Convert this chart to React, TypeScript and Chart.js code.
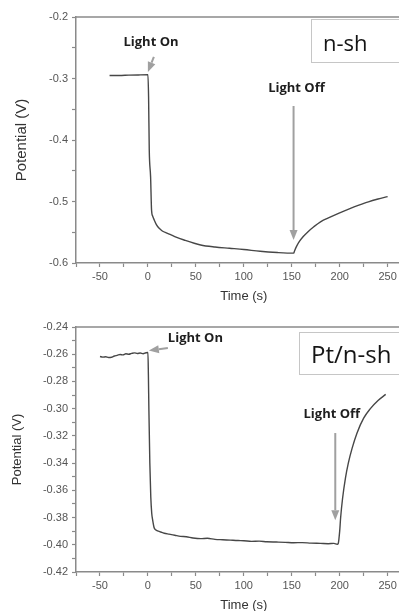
import React, { useEffect, useRef } from 'react';
import { Chart, registerables } from 'chart.js';

Chart.register(...registerables);

// ---------------- data ----------------
// Upper panel: n-sh
const topTime = [
  -40, -30, -20, -10, 0,
  0.7, 1.4, 2.8, 3.8, 5, 6.6, 9, 11.8, 15, 20.5, 28, 37.7,
  55, 70, 85, 100, 117, 135, 152,
  153, 155, 158, 162, 167, 173, 180, 190, 200, 210, 220, 230, 240, 250,
];
const topPotential = [
  -0.2950, -0.2950, -0.2945, -0.2942, -0.2940,
  -0.330, -0.416, -0.460, -0.514, -0.524, -0.530, -0.538, -0.5436, -0.548, -0.5518, -0.557, -0.5626,
  -0.5707, -0.574, -0.576, -0.578, -0.581, -0.583, -0.584,
  -0.580, -0.573, -0.565, -0.557, -0.549, -0.541, -0.533, -0.5255, -0.5185, -0.5120, -0.5060, -0.5005, -0.4960, -0.4920,
];

// Lower panel: Pt/n-sh
const bottomTime = [
  -50, -47, -44, -41, -38, -35, -32, -29, -26,
  -23, -20, -17, -14, -11, -8, -5, -2, 0,
  0.5, 1, 2, 3, 4, 5, 6.5, 8,
  11, 14, 17, 22, 28, 34, 40, 47,
  55, 62, 70, 78, 86, 94, 100, 108,
  116, 124, 134, 143, 152, 161, 170, 180,
  188, 194, 197.5, 198.5, 200, 201, 203, 206,
  209, 213, 218, 225, 232, 240, 248,
];
const bottomPotential = [
  -0.2617, -0.2621, -0.2619, -0.2624, -0.2622, -0.2613, -0.2608, -0.2602, -0.2605,
  -0.2597, -0.2600, -0.2594, -0.2590, -0.2595, -0.2591, -0.2596, -0.2589, -0.2587,
  -0.275, -0.300, -0.340, -0.365, -0.377, -0.382, -0.3875, -0.3890,
  -0.3900, -0.3908, -0.3915, -0.3922, -0.3930, -0.3938, -0.3941, -0.3950,
  -0.3955, -0.3952, -0.3960, -0.3963, -0.3966, -0.3969, -0.3970, -0.3975,
  -0.3973, -0.3978, -0.3980, -0.3982, -0.3985, -0.3984, -0.3988, -0.3990,
  -0.3992, -0.3990, -0.3996, -0.3990, -0.3900, -0.3800, -0.3660, -0.3510,
  -0.3400, -0.3290, -0.3180, -0.3070, -0.3000, -0.2940, -0.2895,
];

const xRange = [-75, 275];
const topYRange = [-0.6, -0.2];
const bottomYRange = [-0.42, -0.24];
const xLabelEvery = 50;

// ---------------- styles ----------------
const AXIS = '#8a8a8a';
const TICK_TEXT = '#555555';
const TITLE_TEXT = '#333333';
const CURVE = '#474747';
const ARROW = '#a0a0a0';
const SANS = '"Liberation Sans", Arial, sans-serif';
const LABEL_FONT = '"Open Sans", "Noto Sans", sans-serif';

type Arrow = { from: [number, number]; to: [number, number] };
type Note = { text: string; at: [number, number]; align: CanvasTextAlign };
type Box = { text: string; left: number; top: number; bottom: number; size: number; padX: number; baseline: number };
type Decor = { box: Box; arrows: Arrow[]; notes: Note[] };

function makeDecor(d: Decor) {
  return {
    id: 'decor',
    afterDraw(chart: any) {
      const { ctx, chartArea: a } = chart;
      const xs = chart.scales.x;
      const ys = chart.scales.y;
      ctx.save();
      // frame (top + right)
      ctx.strokeStyle = AXIS;
      ctx.lineWidth = 1.5;
      ctx.beginPath();
      ctx.moveTo(a.left, a.top);
      ctx.lineTo(a.right, a.top);
      ctx.lineTo(a.right, a.bottom);
      ctx.stroke();

      // label box
      const b = d.box;
      const bx = Math.round(xs.getPixelForValue(b.left));
      const by1 = Math.round(ys.getPixelForValue(b.top));
      const by2 = Math.round(ys.getPixelForValue(b.bottom));
      ctx.fillStyle = '#ffffff';
      ctx.fillRect(bx, by1, a.right + 40 - bx, by2 - by1);
      ctx.strokeStyle = '#c6c6c6';
      ctx.lineWidth = 1;
      ctx.strokeRect(bx + 0.5, by1 + 0.5, a.right + 40 - bx, by2 - by1);
      ctx.fillStyle = '#151515';
      ctx.font = `${b.size}px ${LABEL_FONT}`;
      ctx.textAlign = 'left';
      ctx.textBaseline = 'alphabetic';
      ctx.fillText(b.text, bx + b.padX, by1 + b.baseline);

      // arrows
      for (const ar of d.arrows) {
        const x1 = xs.getPixelForValue(ar.from[0]);
        const y1 = ys.getPixelForValue(ar.from[1]);
        const x2 = xs.getPixelForValue(ar.to[0]);
        const y2 = ys.getPixelForValue(ar.to[1]);
        const ang = Math.atan2(y2 - y1, x2 - x1);
        const headLen = 10;
        const headHalf = 4;
        const bxp = x2 - headLen * Math.cos(ang);
        const byp = y2 - headLen * Math.sin(ang);
        ctx.strokeStyle = ARROW;
        ctx.lineWidth = 2;
        ctx.beginPath();
        ctx.moveTo(x1, y1);
        ctx.lineTo(bxp, byp);
        ctx.stroke();
        ctx.fillStyle = ARROW;
        ctx.beginPath();
        ctx.moveTo(x2, y2);
        ctx.lineTo(bxp + headHalf * Math.sin(ang), byp - headHalf * Math.cos(ang));
        ctx.lineTo(bxp - headHalf * Math.sin(ang), byp + headHalf * Math.cos(ang));
        ctx.closePath();
        ctx.fill();
      }

      // notes
      ctx.fillStyle = '#1e1e1e';
      ctx.font = `bold 13px ${LABEL_FONT}`;
      ctx.textBaseline = 'middle';
      for (const n of d.notes) {
        ctx.textAlign = n.align;
        ctx.fillText(n.text, xs.getPixelForValue(n.at[0]), ys.getPixelForValue(n.at[1]));
      }
      ctx.restore();
    },
  };
}

type PanelSpec = {
  time: number[];
  potential: number[];
  yRange: number[];
  yStep: number;
  yLabelEvery: number;
  yDecimals: number;
  padTop: number;
  padRight: number;
  xAxisHeight: number;
  xTitlePadBottom: number;
  yTitleSize: number;
  yTitlePad: number;
  decor: Decor;
};

function buildConfig(p: PanelSpec): any {
  return {
    type: 'line',
    data: {
      datasets: [
        {
          data: p.time.map((t, i) => ({ x: t, y: p.potential[i] })),
          borderColor: CURVE,
          borderWidth: 1.4,
          pointRadius: 0,
          cubicInterpolationMode: 'monotone',
          fill: false,
        },
      ],
    },
    options: {
      responsive: false,
      animation: false,
      events: [],
      layout: { padding: { left: 0, top: p.padTop, right: p.padRight, bottom: 0 } },
      plugins: { legend: { display: false }, tooltip: { enabled: false } },
      scales: {
        x: {
          type: 'linear',
          min: xRange[0],
          max: xRange[1],
          afterFit: (s: any) => {
            s.height = p.xAxisHeight;
          },
          border: { color: AXIS, width: 1.5 },
          grid: { drawOnChartArea: false, drawTicks: true, tickLength: 4, color: AXIS, tickWidth: 1.2 },
          ticks: {
            stepSize: 25,
            autoSkip: false,
            maxRotation: 0,
            padding: 3,
            color: TICK_TEXT,
            font: { family: SANS, size: 11 },
            callback: (v: number) => (Math.round(v) % xLabelEvery === 0 ? String(Math.round(v)) : ''),
          },
          title: {
            display: true,
            text: 'Time (s)',
            color: TITLE_TEXT,
            font: { family: SANS, size: 13 },
            padding: { top: 0, bottom: p.xTitlePadBottom },
          },
        },
        y: {
          type: 'linear',
          min: p.yRange[0],
          max: p.yRange[1],
          afterFit: (s: any) => {
            s.width = 76;
          },
          border: { color: AXIS, width: 1.5 },
          grid: { drawOnChartArea: false, drawTicks: true, tickLength: 4, color: AXIS, tickWidth: 1.2 },
          ticks: {
            stepSize: p.yStep,
            autoSkip: false,
            padding: 4,
            color: TICK_TEXT,
            font: { family: SANS, size: 11 },
            callback: (v: number) => {
              const k = Math.round(v / p.yStep);
              return k % p.yLabelEvery === 0 ? v.toFixed(p.yDecimals) : '';
            },
          },
          title: {
            display: true,
            text: 'Potential (V)',
            color: TITLE_TEXT,
            font: { family: SANS, size: p.yTitleSize },
            padding: { top: p.yTitlePad, bottom: 0 },
          },
        },
      },
    },
    plugins: [makeDecor(p.decor)],
  };
}

const topSpec: PanelSpec = {
  time: topTime,
  potential: topPotential,
  yRange: topYRange,
  yStep: 0.05,
  yLabelEvery: 2,
  yDecimals: 1,
  padTop: 17,
  padRight: 18.4,
  xAxisHeight: 42,
  xTitlePadBottom: 1.2,
  yTitleSize: 15,
  yTitlePad: 13,
  decor: {
    box: { text: 'n-sh', left: 170.5, top: -0.2033, bottom: -0.2732, size: 22, padX: 12, baseline: 31.7 },
    arrows: [
      { from: [6.2, -0.265], to: [0, -0.2894] },
      { from: [151.9, -0.3447], to: [151.9, -0.5626] },
    ],
    notes: [
      { text: 'Light On', at: [3.2, -0.2407], align: 'center' },
      { text: 'Light Off', at: [154.9, -0.3154], align: 'center' },
    ],
  },
};

const bottomSpec: PanelSpec = {
  time: bottomTime,
  potential: bottomPotential,
  yRange: bottomYRange,
  yStep: 0.01,
  yLabelEvery: 2,
  yDecimals: 2,
  padTop: 22,
  padRight: 18.4,
  xAxisHeight: 53,
  xTitlePadBottom: 11.7,
  yTitleSize: 13,
  yTitlePad: 9.9,
  decor: {
    box: { text: 'Pt/n-sh', left: 158.0, top: -0.2437, bottom: -0.2746, size: 24, padX: 12, baseline: 30.5 },
    arrows: [
      { from: [20.8, -0.2554], to: [1.0, -0.2573] },
      { from: [195.4, -0.3179], to: [195.4, -0.3819] },
    ],
    notes: [
      { text: 'Light On', at: [20.8, -0.2481], align: 'left' },
      { text: 'Light Off', at: [191.8, -0.304], align: 'center' },
    ],
  },
};

function Panel({ spec, top, width, height }: { spec: PanelSpec; top: number; width: number; height: number }) {
  const ref = useRef<HTMLCanvasElement | null>(null);
  useEffect(() => {
    if (!ref.current) return;
    const chart = new Chart(ref.current, buildConfig(spec));
    return () => chart.destroy();
  }, [spec]);
  return (
    <canvas
      ref={ref}
      width={width}
      height={height}
      style={{ position: 'absolute', left: 0, top, width, height, display: 'block' }}
    />
  );
}

export default function App() {
  return (
    <div
      style={{
        position: 'absolute',
        left: 0,
        top: 0,
        width: 399,
        height: 611,
        overflow: 'hidden',
        background: '#ffffff',
      }}
    >
      <Panel spec={topSpec} top={0} width={430} height={305} />
      <Panel spec={bottomSpec} top={305} width={430} height={320} />
    </div>
  );
}
